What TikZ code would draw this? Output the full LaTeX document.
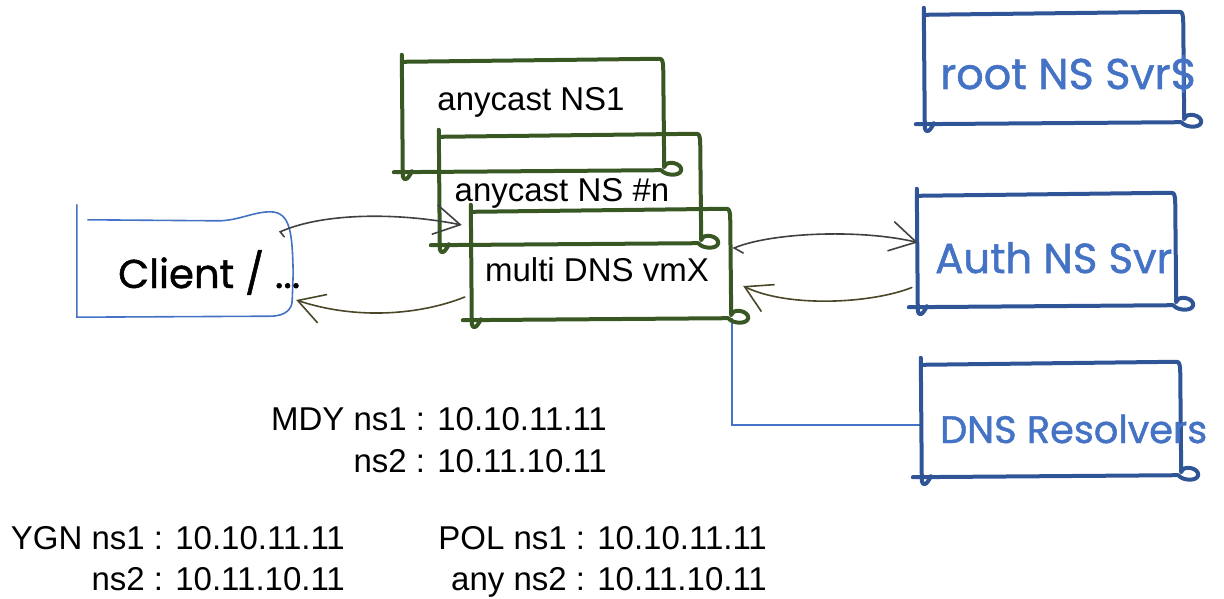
\documentclass[tikz,border=0pt]{standalone}
\usepackage{fontspec}
\setmainfont{Liberation Sans}
\newfontfamily\handfont[FakeBold=1.2]{Poppins}
\usetikzlibrary{arrows.meta,calc}

\definecolor{boxgreen}{RGB}{56,87,35}
\definecolor{boxblue}{RGB}{47,85,151}
\definecolor{lineblue}{RGB}{68,114,196}
\definecolor{arrowgray}{RGB}{64,64,64}
\definecolor{arrowolive}{RGB}{74,70,40}

\tikzset{
  frame/.style={draw=none, inner sep=0pt},
  greenframe/.style={draw=boxgreen, line width=4pt, line cap=round, line join=round},
  blueframe/.style={draw=boxblue, line width=4pt, line cap=round, line join=round},
  clientframe/.style={draw=lineblue, line width=1.6pt, line cap=round, line join=round},
  lbl/.style={font=\fontsize{33}{40}\selectfont, inner sep=0pt, anchor=base},
  info/.style={font=\fontsize{33}{40}\selectfont, inner sep=0pt, anchor=base east},
  handlbl/.style={inner sep=0pt, anchor=base west},
  barb/.style={-{Straight Barb[length=26pt,width=30pt,line width=1.6pt]}},
  req/.style={draw=arrowgray, line width=1.6pt, barb, line cap=round},
  resp/.style={draw=arrowolive, line width=1.6pt, barb, line cap=round},
  link/.style={draw=lineblue, line width=1.6pt},
}

% hand-drawn outline around a node: wobbly top, loop at the lower right,
% overshooting bottom line and a hooked left edge
\newcommand\sketchframe[2]{%
  \draw[#2] let \p1=(#1.north west), \p2=(#1.south east) in
    (\x1,\y1) -- (\x2-6pt,\y1+3pt) .. controls (\x2-1pt,\y1+3pt) .. (\x2,\y1-4pt)
    -- (\x2+1pt,\y2+3pt) .. controls (\x2+3pt,\y2+11pt) and (\x2+19pt,\y2+7pt) .. (\x2+18pt,\y2)
    .. controls (\x2+17pt,\y2-6pt) and (\x2+3pt,\y2-6pt) .. (\x2-2pt,\y2)
    -- (\x1-9pt,\y2-2pt)
    (\x1-1pt,\y1+7pt) -- (\x1,\y2-6pt) .. controls (\x1+1pt,\y2-11pt) and (\x1+5pt,\y2-10pt) .. (\x1+9pt,\y2-1pt);
}

\begin{document}
\begin{tikzpicture}[x=1pt,y=-1pt]
\useasboundingbox (0,0) rectangle (1224,599);

% ---- boxes -------------------------------------------------------------
\node[frame, minimum width=216pt, minimum height=102pt] (client) at (185,266) {};
\node[frame, minimum width=260pt, minimum height=108pt] (ns1)  at (533,116) {};
\node[frame, minimum width=260pt, minimum height=106pt] (nsn)  at (570,190) {};
\node[frame, minimum width=258pt, minimum height=106pt] (vm)   at (601,265) {};
\node[frame, minimum width=258pt, minimum height=107pt] (root) at (1054,68.5) {};
\node[frame, minimum width=257pt, minimum height=109pt] (auth) at (1046.5,250.5) {};
\node[frame, minimum width=258pt, minimum height=110pt] (dns)  at (1051,420) {};

% resolver link runs under the frames
\draw[link] ($(vm.south east)+(2,0)$) |- ($(dns.west)+(0,5)$);

% client outline (thin, rounded on the right)
\draw[clientframe] let \p1=(client.north west), \p2=(client.south east) in
  (\x1,\y1+10pt) -- (\x1,\y2)
  -- (\x2-23pt,\y2+1pt) .. controls (\x2-8pt,\y2+1pt) and (\x2-1pt,\y2+8pt) .. (\x2-1pt,\y2+17pt)
  -- (\x2,\y2+44pt)
  .. controls (\x2-1pt,\y1-20pt) and (\x2-2pt,\y1+3pt) .. (\x2-23pt,\y1+3pt)
  .. controls (\x2-40pt,\y1+3pt) and (\x2-55pt,\y1-6pt) .. (\x2-75pt,\y1-6pt)
  -- (\x1+11pt,\y1-5pt);

\sketchframe{ns1}{greenframe}
\sketchframe{nsn}{greenframe}
\sketchframe{vm}{greenframe}
\sketchframe{root}{blueframe}
\sketchframe{auth}{blueframe}
\sketchframe{dns}{blueframe}

% ---- labels ------------------------------------------------------------
\node[lbl] (ns1t) at (531,111) {anycast NS1};
\node[lbl] (nsnt) at (562,201) {anycast NS \#n};
\node[lbl] (vmt)  at (597,281) {multi DNS vmX};

\node[handlbl] (clientt) at (118,288) {\resizebox{182pt}{!}{\handfont Client / ...}};
\node[handlbl, text=lineblue] (roott) at (940,89)  {\resizebox{257pt}{!}{\handfont root NS Svr\$}};
\node[handlbl, text=lineblue] (autht) at (935,273) {\resizebox{237pt}{!}{\handfont Auth NS Svr}};
\node[handlbl, text=lineblue] (dnst)  at (940,443) {\resizebox{267pt}{!}{\handfont DNS Resolvers}};

% ---- requests and replies ----------------------------------------------
\draw[req] ($(client.north east)+(-9,22)$) -- ($(client.north east)+(-13,17)$)
  .. controls +(45,-20) and +(-60,-12) .. ($(vm.west)+(-10,-40)$);
\draw[resp] ($(vm.west)+(-7,32)$)
  .. controls +(-45,18) and +(60,20) .. ($(client.east)+(3,34)$);
\draw[req] ($(vm.east)+(13,-12)$) -- ($(vm.east)+(4,-17)$)
  .. controls +(35,-15) and +(-60,-14) .. ($(auth.west)+(0,-8)$);
\draw[resp] ($(auth.west)+(-6,37)$)
  .. controls +(-40,16) and +(45,22) .. ($(vm.east)+(13,21)$);

% ---- address notes -----------------------------------------------------
\node[info] (mdy1) at (607,430) {MDY ns1 : 10.10.11.11};
\node[info] (mdy2) at (607,472) {ns2 : 10.11.10.11};
\node[info] (ygn1) at (345,549) {YGN ns1 : 10.10.11.11};
\node[info] (ygn2) at (345,590) {ns2 : 10.11.10.11};
\node[info] (pol1) at (767,549) {POL ns1 : 10.10.11.11};
\node[info] (pol2) at (767,590) {any ns2 : 10.11.10.11};
\end{tikzpicture}
\end{document}
